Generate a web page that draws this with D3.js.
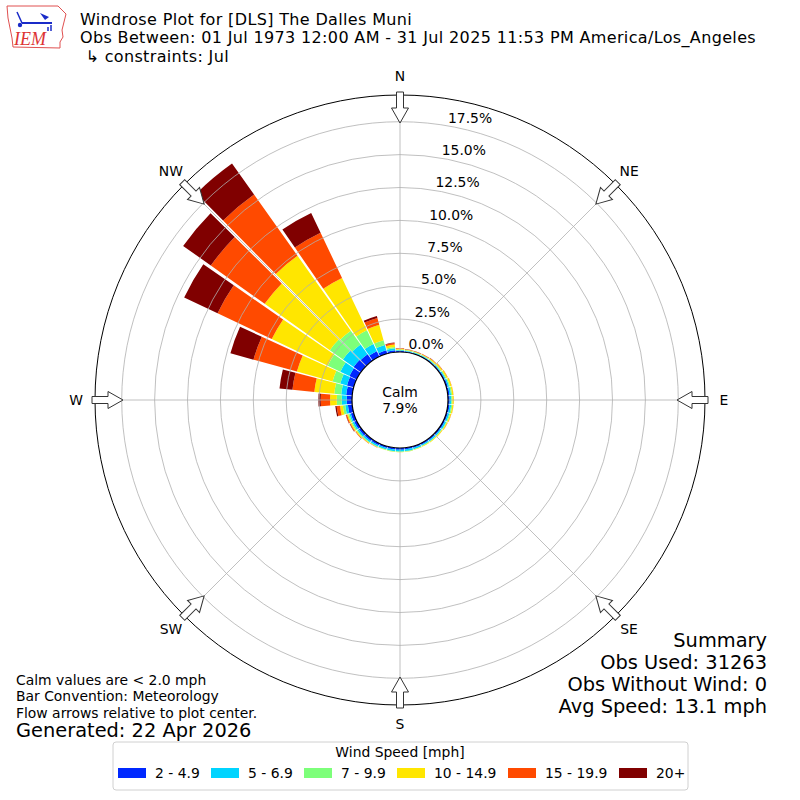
<!DOCTYPE html>
<html>
<head>
<meta charset="utf-8">
<script src="https://cdn.jsdelivr.net/npm/d3@7"></script>
<style>
  body { margin: 0; background: #fff; }
  text { font-family: "DejaVu Sans", sans-serif; fill: #000; }
</style>
</head>
<body>
<div id="chart"></div>
<script>
// directions (deg, meteorological, bin centres)
var directions = [0, 10, 20, 30, 40, 50, 60, 70, 80, 90, 100, 110, 120, 130, 140, 150, 160, 170,
                  180, 190, 200, 210, 220, 230, 240, 250, 260, 270, 280, 290, 300, 310, 320, 330, 340, 350];

var speedBins = ["2 - 4.9", "5 - 6.9", "7 - 9.9", "10 - 14.9", "15 - 19.9", "20+"];
var binColors = ["#0028ff", "#00d4ff", "#7dff7a", "#ffe600", "#ff4a00", "#800000"];

// percent of obs per direction, one array per speed bin
var pct2to5   = [0.08,0.07,0.06,0.06,0.07,0.08,0.10,0.12,0.13,0.13,0.13,0.12,0.12,0.11,0.11,0.11,0.12,0.13,
                 0.14,0.14,0.14,0.15,0.17,0.19,0.21,0.23,0.33,0.40,0.46,0.53,0.61,0.68,0.61,0.46,0.27,0.15];
var pct5to7   = [0.06,0.05,0.05,0.05,0.05,0.06,0.08,0.10,0.12,0.13,0.13,0.12,0.11,0.10,0.10,0.10,0.11,0.12,
                 0.12,0.12,0.12,0.12,0.13,0.13,0.13,0.11,0.20,0.38,0.38,0.53,0.76,0.99,0.91,0.61,0.42,0.15];
var pct7to10  = [0.05,0.04,0.04,0.04,0.05,0.06,0.07,0.08,0.08,0.08,0.08,0.07,0.06,0.05,0.05,0.04,0.04,0.04,
                 0.04,0.04,0.04,0.05,0.06,0.08,0.09,0.10,0.19,0.38,0.53,0.61,1.06,1.22,1.29,1.14,0.38,0.10];
var pct10to15 = [0.06,0.05,0.05,0.06,0.07,0.09,0.10,0.11,0.10,0.10,0.09,0.08,0.07,0.06,0.05,0.04,0.03,0.02,
                 0.02,0.02,0.02,0.03,0.05,0.07,0.08,0.09,0.21,0.51,1.52,2.81,4.71,6.08,6.99,4.41,1.22,0.18];
var pct15to20 = [0.03,0.02,0.02,0.03,0.03,0.03,0.02,0.02,0.01,0.01,0.01,0.01,0.01,0.01,0.00,0.00,0.00,0.00,
                 0.00,0.00,0.00,0.01,0.02,0.04,0.06,0.08,0.26,0.71,1.67,3.42,4.56,5.02,5.70,3.80,0.53,0.12];
var pct20up   = [0.01,0.01,0.01,0.01,0.01,0.01,0.00,0.00,0.00,0.00,0.00,0.00,0.00,0.00,0.00,0.00,0.00,0.00,
                 0.00,0.00,0.00,0.00,0.00,0.01,0.02,0.02,0.10,0.18,0.99,1.82,2.81,2.58,2.89,1.67,0.15,0.04];

var rTicks = [0, 2.5, 5, 7.5, 10, 12.5, 15, 17.5];
var compass = ["N", "NE", "E", "SE", "S", "SW", "W", "NW"];
var compassDeg = [0, 45, 90, 135, 180, 225, 270, 315];

var titleLines = ["Windrose Plot for [DLS] The Dalles Muni",
                  "Obs Between: 01 Jul 1973 12:00 AM - 31 Jul 2025 11:53 PM America/Los_Angeles",
                  " \u21b3 constraints: Jul"];
var summaryLines = ["Summary", "Obs Used: 31263", "Obs Without Wind: 0", "Avg Speed: 13.1 mph"];
var noteLines = ["Calm values are < 2.0 mph", "Bar Convention: Meteorology", "Flow arrows relative to plot center."];
var calmPct = "7.9%";
var generated = "Generated: 22 Apr 2026";

function windrose() {
    var layers = {};
    var width = 800, height = 800,
        cx = 400, cy = 400,
        calmR = 48, outerR = 305,
        svg, plot;

    var keys = ["b0", "b1", "b2", "b3", "b4", "b5"];
    var rows = directions.map(function (d, i) {
        return {dir: d, b0: pct2to5[i], b1: pct5to7[i], b2: pct7to10[i],
                b3: pct10to15[i], b4: pct15to20[i], b5: pct20up[i]};
    });
    var stacked = d3.stack().keys(keys)(rows);

    var r = d3.scaleLinear().domain([0, 19.53]).range([calmR, outerR]);
    var rad = function (deg) { return deg * Math.PI / 180; };
    var halfW = 4.6;

    var arc = d3.arc()
        .innerRadius(function (d) { return r(d[0]); })
        .outerRadius(function (d) { return r(d[1]); })
        .startAngle(function (d) { return rad(d.data.dir - halfW); })
        .endAngle(function (d) { return rad(d.data.dir + halfW); });

    layers.bars = function () {
        plot.append("g").selectAll("g")
            .data(stacked)
            .enter().append("g")
            .attr("fill", function (d, i) { return binColors[i]; })
            .selectAll("path")
            .data(function (d) { return d; })
            .enter().append("path")
            .attr("d", arc);
    };

    layers.grid = function () {
        var g = plot.append("g").attr("fill", "none").attr("stroke", "#b0b0b0").attr("stroke-width", 0.8);
        g.selectAll("circle").data(rTicks.slice(1)).enter().append("circle")
            .attr("r", function (d) { return r(d); });
        g.selectAll("line").data(compassDeg).enter().append("line")
            .attr("x1", function (d) { return calmR * Math.sin(rad(d)); })
            .attr("y1", function (d) { return -calmR * Math.cos(rad(d)); })
            .attr("x2", function (d) { return outerR * Math.sin(rad(d)); })
            .attr("y2", function (d) { return -outerR * Math.cos(rad(d)); });
        plot.append("circle").attr("r", outerR).attr("fill", "none")
            .attr("stroke", "#000").attr("stroke-width", 1);
    };

    layers.rlabels = function () {
        var a = rad(11);
        plot.append("g").selectAll("text").data(rTicks).enter().append("text")
            .attr("x", function (d) { return r(d) * Math.sin(a) + 17; })
            .attr("y", function (d) { return -r(d) * Math.cos(a) - 4; })
            .attr("text-anchor", "middle")
            .style("font-size", "13.9px")
            .text(function (d) { return d.toFixed(1) + "%"; });
    };

    layers.arrows = function () {
        var pts = [[-3.5, -308], [3.5, -308], [3.5, -292], [8.5, -292], [0, -277], [-8.5, -292], [-3.5, -292]];
        plot.append("g").selectAll("polygon").data(compassDeg).enter().append("polygon")
            .attr("points", pts.map(function (p) { return p.join(","); }).join(" "))
            .attr("transform", function (d) { return "rotate(" + d + ")"; })
            .attr("fill", "#fff").attr("stroke", "#333").attr("stroke-width", 1);
        plot.append("g").selectAll("text").data(compass).enter().append("text")
            .attr("x", function (d, i) { return 324 * Math.sin(rad(compassDeg[i])); })
            .attr("y", function (d, i) { return -324 * Math.cos(rad(compassDeg[i])) + 5; })
            .attr("text-anchor", "middle")
            .style("font-size", "13.9px")
            .text(function (d) { return d; });
    };

    layers.calm = function () {
        plot.append("circle").attr("r", calmR).attr("fill", "#fff")
            .attr("stroke", "#000").attr("stroke-width", 1.2);
        plot.append("text").attr("y", -3).attr("text-anchor", "middle")
            .style("font-size", "13.9px").text("Calm");
        plot.append("text").attr("y", 13).attr("text-anchor", "middle")
            .style("font-size", "13.9px").text(calmPct);
    };

    layers.header = function () {
        var logo = svg.append("g");
        logo.append("path")
            .attr("d", "M7,6 L58,6 L62,10 L66,14 L64,22 L62,30 L63,37 L60,42 L60,48 L13,47 L12,38 L10,28 L8,18 Z")
            .attr("fill", "none").attr("stroke", "#e05050").attr("stroke-width", 1);
        logo.append("line").attr("x1", 22).attr("y1", 23).attr("x2", 52).attr("y2", 23)
            .attr("stroke", "#1a2bc8").attr("stroke-width", 2);
        logo.append("path").attr("d", "M22,23 L17,12 M51,25 L51,31 M48,27 L48,31")
            .attr("fill", "none").attr("stroke", "#1a2bc8").attr("stroke-width", 1.5);
        logo.append("path").attr("d", "M40,13 L49,17 L45,20 Z").attr("fill", "#1a2bc8");
        logo.append("circle").attr("cx", 20).attr("cy", 25).attr("r", 2.2).attr("fill", "#1a2bc8");
        logo.append("text").attr("x", 14).attr("y", 45)
            .style("font-family", "'Liberation Serif', serif").style("font-style", "italic")
            .style("font-size", "18px").style("fill", "#d33").text("IEM");

        svg.append("g").selectAll("text").data(titleLines).enter().append("text")
            .attr("x", 80)
            .attr("y", function (d, i) { return 24.5 + i * 18.6; })
            .style("font-size", "16px")
            .style("letter-spacing", "0.35px")
            .style("white-space", "pre")
            .attr("xml:space", "preserve")
            .text(function (d) { return d; });
    };

    layers.footer = function () {
        svg.append("g").selectAll("text").data(summaryLines).enter().append("text")
            .attr("x", 767)
            .attr("y", function (d, i) { return 647 + i * 22; })
            .attr("text-anchor", "end")
            .style("font-size", "19.4px")
            .text(function (d) { return d; });
        svg.append("g").selectAll("text").data(noteLines).enter().append("text")
            .attr("x", 16)
            .attr("y", function (d, i) { return 685 + i * 16.3; })
            .style("font-size", "13.9px")
            .text(function (d) { return d; });
        svg.append("text").attr("x", 16).attr("y", 737)
            .style("font-size", "19.4px").text(generated);
    };

    layers.legend = function () {
        var lg = svg.append("g");
        lg.append("rect").attr("x", 113).attr("y", 742).attr("width", 575).attr("height", 48)
            .attr("rx", 3).attr("fill", "#fff").attr("stroke", "#d0d0d0");
        lg.append("text").attr("x", 400).attr("y", 757).attr("text-anchor", "middle")
            .style("font-size", "13.9px").text("Wind Speed [mph]");
        var xs = [118, 211, 304, 397, 508, 619];
        var items = lg.selectAll("g.item").data(speedBins).enter().append("g")
            .attr("transform", function (d, i) { return "translate(" + xs[i] + ",768)"; });
        items.append("rect").attr("width", 28).attr("height", 10)
            .attr("fill", function (d, i) { return binColors[i]; });
        items.append("text").attr("x", 37).attr("y", 10)
            .style("font-size", "13.9px").text(function (d) { return d; });
    };

    function chart(selection) {
        svg = selection.append("svg").attr("width", width).attr("height", height);
        plot = svg.append("g").attr("transform", "translate(" + cx + "," + cy + ")");
        layers.bars();
        layers.grid();
        layers.arrows();
        layers.calm();
        layers.rlabels();
        layers.header();
        layers.footer();
        layers.legend();
    }
    return chart;
}

d3.select("#chart").call(windrose());
</script>
</body>
</html>
